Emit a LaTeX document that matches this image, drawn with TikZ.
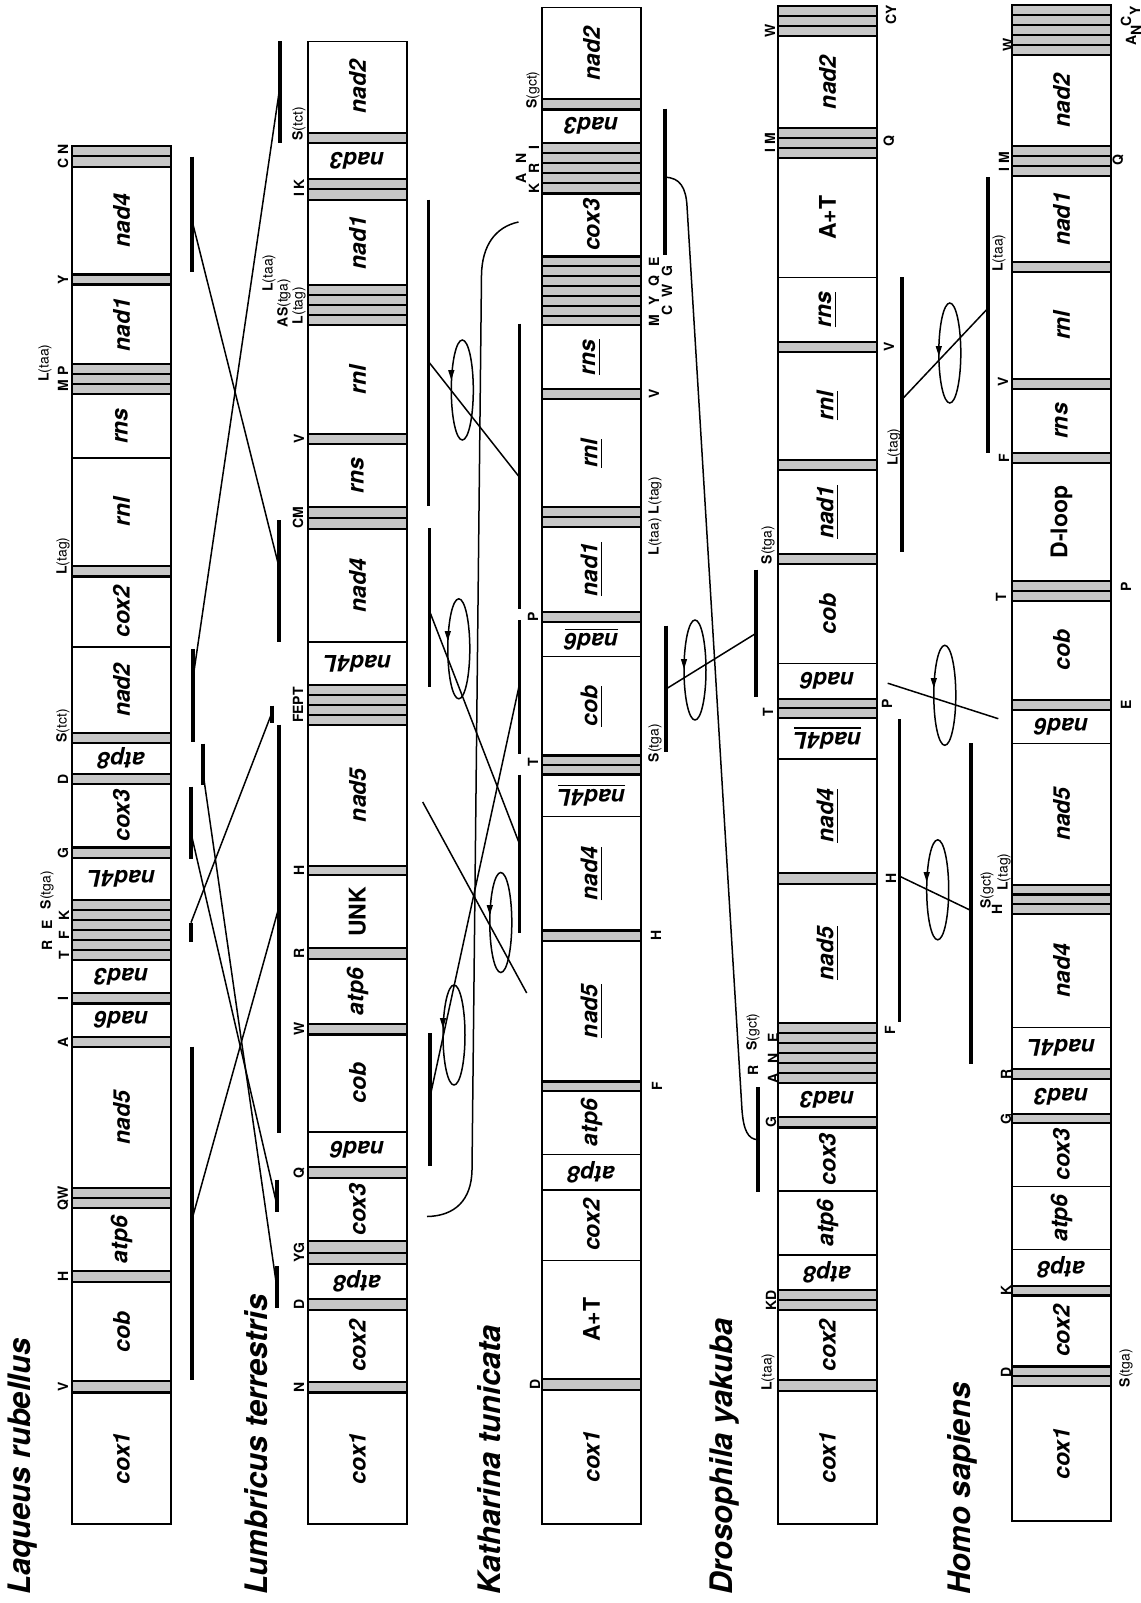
\documentclass[tikz,border=0pt]{standalone}
\usepackage{fontspec}
\setmainfont{TeX Gyre Heros}
\newcounter{nn}
\tikzset{
  boxline/.style={draw=black, line width=0.6pt},
  bandst/.style={draw=black, fill=black!22, line width=1.05pt},
  genelab/.style={inner sep=0pt, font=\fontsize{11.5}{12}\selectfont\bfseries\itshape},
  tlab/.style={inner sep=0pt, rotate=90, font=\fontsize{7}{8}\selectfont\bfseries},
  spname/.style={inner sep=0pt, rotate=90, anchor=west, font=\fontsize{15.5}{18}\selectfont\bfseries\itshape},
  bar/.style={line width=1.7pt},
  link/.style={line width=0.75pt},
  loopst/.style={line width=0.75pt},
}
\newcommand{\gn}[5]{\stepcounter{nn}%
  \draw[boxline] (#1,#2) rectangle (#1+99,#3);%
  \node[genelab, rotate=#4] (g\arabic{nn}) at (#1+49.5,{(#2+#3)/2}) {#5};}
\newcommand{\bd}[3]{\filldraw[bandst] (#1,#2) rectangle (#1+99,#3);}
\newcommand{\bds}[4]{\foreach \k in {1,...,#4}{\filldraw[bandst] (#1,{#2+(\k-1)*(#3-#2)/#4}) rectangle (#1+99,{#2+\k*(#3-#2)/#4});}}
\newcommand{\tl}[3]{\stepcounter{nn}\node[tlab] (t\arabic{nn}) at (#1,#2) {#3};}
\newcommand{\ac}[2]{#1{\mdseries(#2)}}
\newcommand{\ul}[1]{\setbox0=\hbox{#1}\leavevmode\rlap{\rule[-2.6pt]{\wd0}{0.9pt}}\box0}
\newcommand{\lp}[3]{\draw[loopst] (#1,#2) ellipse (11 and 50);
  \fill (#1-14.2,#3-9) -- (#1-7.8,#3-9) -- (#1-11,#3+1) -- cycle;}
\begin{document}
\begin{tikzpicture}[x=0.5pt,y=-0.5pt]
\useasboundingbox (0,0) rectangle (1141,1603);
% ---------------- Laqueus
\bds{72}{145.7}{167}{2}
\gn{72}{167}{274.5}{90}{nad4}
\bd{72}{274.5}{284.5}
\gn{72}{284.5}{364.3}{90}{nad1}
\bds{72}{364.3}{394.3}{3}
\gn{72}{394.3}{458}{90}{rns}
\gn{72}{458}{566.2}{90}{rnl}
\bd{72}{566.2}{576.5}
\gn{72}{576.5}{647}{90}{cox2}
\gn{72}{647}{733.2}{90}{nad2}
\bd{72}{733.2}{742.8}
\gn{72}{742.8}{773.8}{180}{atp8}
\bd{72}{773.8}{784.1}
\gn{72}{784.1}{847.5}{90}{cox3}
\bd{72}{847.5}{857.8}
\gn{72}{857.8}{900.2}{180}{nad4L}
\bds{72}{900.2}{959.7}{6}
\gn{72}{959.7}{993.2}{180}{nad3}
\bd{72}{993.2}{1003.5}
\gn{72}{1003.5}{1036.9}{180}{nad6}
\bd{72}{1036.9}{1047.2}
\gn{72}{1047.2}{1188.2}{90}{nad5}
\bds{72}{1188.2}{1208.2}{2}
\gn{72}{1208.2}{1271.3}{90}{atp6}
\bd{72}{1271.3}{1281.7}
\gn{72}{1281.7}{1381.4}{90}{cob}
\bd{72}{1381.4}{1392.5}
\gn{72}{1392.5}{1524}{90}{cox1}
% ---------------- Lumbricus
\gn{308}{41.3}{132.6}{90}{nad2}
\bd{308}{132.6}{142.9}
\gn{308}{142.9}{179.1}{180}{nad3}
\bds{308}{179.1}{199.7}{2}
\gn{308}{199.7}{285.1}{90}{nad1}
\bds{308}{285.1}{325.4}{4}
\gn{308}{325.4}{433.9}{90}{rnl}
\bd{308}{433.9}{444.2}
\gn{308}{444.2}{507}{90}{rns}
\bds{308}{507}{529}{2}
\gn{308}{529}{641.9}{90}{nad4}
\gn{308}{641.9}{685}{180}{nad4L}
\bds{308}{685}{724.6}{4}
\gn{308}{724.6}{865.7}{90}{nad5}
\bd{308}{865.7}{875}
\gn{308}{875}{948.4}{90}{\upshape UNK}
\bd{308}{948.4}{958.7}
\gn{308}{958.7}{1024.1}{90}{atp6}
\bd{308}{1024.1}{1034.5}
\gn{308}{1034.5}{1132}{90}{cob}
\gn{308}{1132}{1167.4}{180}{nad6}
\bd{308}{1167.4}{1177.8}
\gn{308}{1177.8}{1240.8}{90}{cox3}
\bds{308}{1240.8}{1264.3}{2}
\gn{308}{1264.3}{1299}{180}{atp8}
\bd{308}{1299}{1310}
\gn{308}{1310}{1382}{90}{cox2}
\bd{308}{1382}{1392.5}
\gn{308}{1392.5}{1524}{90}{cox1}
% ---------------- Katharina
\gn{542}{7.6}{99.2}{90}{nad2}
\bd{542}{99.2}{109.5}
\gn{542}{109.5}{142.9}{180}{nad3}
\bds{542}{142.9}{193.5}{5}
\gn{542}{193.5}{256.5}{90}{cox3}
\bds{542}{256.5}{325.4}{7}
\gn{542}{325.4}{389.1}{90}{\ul{rns}}
\bd{542}{389.1}{399.4}
\gn{542}{399.4}{507}{90}{\ul{rnl}}
\bds{542}{507}{527}{2}
\gn{542}{527}{611.6}{90}{\ul{nad1}}
\bd{542}{611.6}{622.3}
\gn{542}{622.3}{656.7}{180}{\ul{nad6}}
\gn{542}{656.7}{755.5}{90}{\ul{cob}}
\bds{542}{755.5}{774.5}{2}
\gn{542}{774.5}{816.5}{180}{\ul{nad4L}}
\gn{542}{816.5}{930.5}{90}{\ul{nad4}}
\bd{542}{930.5}{940.8}
\gn{542}{940.8}{1081.5}{90}{\ul{nad5}}
\bd{542}{1081.5}{1091.2}
\gn{542}{1091.2}{1154.2}{90}{atp6}
\gn{542}{1154.2}{1189.9}{180}{atp8}
\gn{542}{1189.9}{1260.1}{90}{cox2}
\gn{542}{1260.1}{1379.3}{90}{\upshape A+T}
\bd{542}{1379.3}{1389.7}
\gn{542}{1389.7}{1524}{90}{cox1}
% ---------------- Drosophila
\bds{778}{6.2}{36.2}{3}
\gn{778}{36.2}{128.1}{90}{nad2}
\bds{778}{128.1}{158.4}{3}
\gn{778}{158.4}{277.2}{90}{\upshape A+T}
\gn{778}{277.2}{341.9}{90}{\ul{rns}}
\bd{778}{341.9}{351.9}
\gn{778}{351.9}{459.7}{90}{\ul{rnl}}
\bd{778}{459.7}{470}
\gn{778}{470}{554.1}{90}{\ul{nad1}}
\bd{778}{554.1}{564.4}
\gn{778}{564.4}{663.6}{90}{cob}
\gn{778}{663.6}{698.7}{180}{nad6}
\bds{778}{698.7}{717.7}{2}
\gn{778}{717.7}{759}{180}{\ul{nad4L}}
\gn{778}{759}{872.6}{90}{\ul{nad4}}
\bd{778}{872.6}{883.7}
\gn{778}{883.7}{1022.7}{90}{\ul{nad5}}
\bds{778}{1022.7}{1083.3}{6}
\gn{778}{1083.3}{1117.1}{180}{nad3}
\bd{778}{1117.1}{1127.5}
\gn{778}{1127.5}{1190.9}{90}{cox3}
\gn{778}{1190.9}{1255}{90}{atp6}
\gn{778}{1255}{1290.3}{180}{atp8}
\bds{778}{1290.3}{1310}{2}
\gn{778}{1310}{1380.3}{90}{cox2}
\bd{778}{1380.3}{1390.7}
\gn{778}{1390.7}{1524}{90}{cox1}
% ---------------- Homo
\bds{1012}{5.2}{55.1}{5}
\gn{1012}{55.1}{146.4}{90}{nad2}
\bds{1012}{146.4}{176.3}{3}
\gn{1012}{176.3}{261.7}{90}{nad1}
\bd{1012}{261.7}{272}
\gn{1012}{272}{378.8}{90}{rnl}
\bd{1012}{378.8}{389.1}
\gn{1012}{389.1}{452.8}{90}{rns}
\bd{1012}{452.8}{463.2}
\gn{1012}{463.2}{581}{90}{\upshape D-loop}
\bds{1012}{581}{600.6}{2}
\gn{1012}{600.6}{699.8}{90}{cob}
\bd{1012}{699.8}{709.8}
\gn{1012}{709.8}{743.5}{180}{nad6}
\gn{1012}{743.5}{884.7}{90}{nad5}
\bds{1012}{884.7}{914}{3}
\gn{1012}{914}{1027.6}{90}{nad4}
\gn{1012}{1027.6}{1068.7}{180}{nad4L}
\bd{1012}{1068.7}{1079}
\gn{1012}{1079}{1113.7}{180}{nad3}
\bd{1012}{1113.7}{1123.4}
\gn{1012}{1123.4}{1186.4}{90}{cox3}
\gn{1012}{1186.4}{1249.8}{90}{atp6}
\gn{1012}{1249.8}{1285.8}{180}{atp8}
\bd{1012}{1285.8}{1295.5}
\gn{1012}{1295.5}{1366.5}{90}{cox2}
\bds{1012}{1366.5}{1385.6}{2}
\gn{1012}{1385.6}{1521}{90}{cox1}
% ---------------- tRNA labels: Laqueus
\tl{63}{156}{C N}
\tl{63}{279.5}{Y}
\tl{63}{379}{M P}
\tl{45}{363}{\ac{L}{taa}}
\tl{63}{556}{\ac{L}{tag}}
\tl{63}{726}{\ac{S}{tct}}
\tl{63}{779}{D}
\tl{63}{852.6}{G}
\tl{64}{955}{T}
\tl{64}{935}{F}
\tl{64}{915}{K}
\tl{47}{945}{R}
\tl{47}{925}{E}
\tl{47}{890}{\ac{S}{tga}}
\tl{63}{998.3}{I}
\tl{63}{1042}{A}
\tl{63}{1198}{QW}
\tl{63}{1276.5}{H}
\tl{63}{1387}{V}
% Lumbricus
\tl{299}{124}{\ac{S}{tct}}
\tl{299}{188}{I K}
\tl{299}{305.5}{\ac{L}{tag}}
\tl{284}{303}{A\ac{S}{tga}}
\tl{269}{273}{\ac{L}{taa}}
\tl{299}{439}{V}
\tl{298}{518}{CM}
\tl{298}{705}{FEPT}
\tl{299}{870.4}{H}
\tl{299}{953.5}{R}
\tl{299}{1029.3}{W}
\tl{299}{1172.6}{Q}
\tl{299}{1252.5}{YG}
\tl{299}{1304.5}{D}
\tl{299}{1387}{N}
% Katharina
\tl{533}{90}{\ac{S}{gct}}
\tl{521}{178}{A}
\tl{521}{158}{N}
\tl{534}{188.5}{K}
\tl{534}{168}{R}
\tl{534}{148}{I}
\tl{654}{320.5}{M}
\tl{654}{300.8}{Y}
\tl{654}{281}{Q}
\tl{654}{261.4}{E}
\tl{667}{310.6}{C}
\tl{667}{291}{W}
\tl{667}{271.2}{G}
\tl{654}{394}{V}
\tl{655}{516}{\ac{L}{taa} \ac{L}{tag}}
\tl{533}{617}{P}
\tl{533}{762}{T}
\tl{655}{743}{\ac{S}{tga}}
\tl{656}{935.6}{H}
\tl{657}{1086}{F}
\tl{535}{1384.5}{D}
% Drosophila
\tl{770}{31}{W}
\tl{891}{15}{CY}
\tl{770}{143}{I M}
\tl{889}{141}{Q}
\tl{889}{347}{V}
\tl{894}{447}{\ac{L}{tag}}
\tl{768}{545}{\ac{S}{tga}}
\tl{768}{712.5}{T}
\tl{887}{704}{P}
\tl{891}{878}{H}
\tl{890}{1030}{F}
\tl{753}{1070}{R}
\tl{753}{1032}{\ac{S}{gct}}
\tl{773}{1078}{A}
\tl{773}{1058}{N}
\tl{773}{1038}{E}
\tl{771}{1122}{G}
\tl{771}{1300}{KD}
\tl{768}{1372}{\ac{L}{taa}}
% Homo
\tl{1008}{45}{W}
\tl{1131}{40}{A}
\tl{1126}{21}{C}
\tl{1136}{30}{N}
\tl{1135}{11}{Y}
\tl{1004}{162}{I M}
\tl{1118}{160}{Q}
\tl{999}{253}{\ac{L}{taa}}
\tl{1003}{382}{V}
\tl{1004}{458}{F}
\tl{1001}{597}{T}
\tl{1126}{587}{P}
\tl{1126}{705}{E}
\tl{987}{890}{\ac{S}{gct}}
\tl{997}{909}{H}
\tl{1004}{872}{\ac{L}{tag}}
\tl{1006}{1074}{R}
\tl{1006}{1119}{G}
\tl{1006}{1290}{K}
\tl{1006}{1372}{D}
\tl{1126}{1368}{\ac{S}{tga}}
% ---------------- species names
\node[spname] (sp1) at (22.5,1595) {Laqueus rubellus};
\node[spname] (sp2) at (256,1595) {Lumbricus terrestris};
\node[spname] (sp3) at (489,1595) {Katharina tunicata};
\node[spname] (sp4) at (724,1595) {Drosophila yakuba};
\node[spname] (sp5) at (962.5,1595) {Homo sapiens};
% ---------------- Laqueus - Lumbricus
\draw[bar] (192,156.7) -- (192,272);
\draw[bar] (193,648.8) -- (193,741.8);
\draw[bar] (203,743.5) -- (203,784.8);
\draw[bar] (191,786.5) -- (191,858.9);
\draw[bar] (191,922.6) -- (191,941.5);
\draw[bar] (192,1046.5) -- (192,1380.3);
\draw[bar] (280,41.3) -- (280,142.9);
\draw[bar] (279,520) -- (279,641.9);
\draw[bar] (272,705.6) -- (272,722.8);
\draw[bar] (279,724.6) -- (279,1132.7);
\draw[bar] (277,1179.5) -- (277,1212.4);
\draw[bar] (277,1266) -- (277,1307.6);
\coordinate (a1) at (192,220.4);
\coordinate (a2) at (193,678);
\coordinate (a3) at (203,772.8);
\coordinate (a4) at (191,833);
\coordinate (a5) at (191,922.6);
\coordinate (a6) at (192,1219.3);
\coordinate (b1) at (280,86);
\coordinate (b2) at (279,567);
\coordinate (b3) at (272,712.5);
\coordinate (b4) at (279,907);
\coordinate (b5) at (277,1205.4);
\coordinate (b6) at (277,1288.5);
\draw[link] (a1) -- (b2);
\draw[link] (b1) -- (a2);
\draw[link] (a3) -- (b6);
\draw[link] (a4) -- (b5);
\draw[link] (a5) -- (b3);
\draw[link] (b4) -- (a6);
% ---------------- Lumbricus - Katharina
\draw[bar] (428.5,199.7) -- (428.5,506.2);
\draw[bar] (429.5,528) -- (429.5,686.7);
\draw[bar] (430,1033.3) -- (430,1166);
\draw[bar] (519.3,323.7) -- (519.3,609.2);
\draw[bar] (519.3,620.2) -- (519.3,753.8);
\draw[bar] (519.3,774.5) -- (519.3,932.9);
\coordinate (c1) at (428.5,361.6);
\coordinate (c2) at (429.5,611);
\coordinate (c4) at (430,1097);
\coordinate (d1) at (519.3,477);
\coordinate (d2) at (519.3,685);
\coordinate (d3) at (519.3,843.4);
\coordinate (f1) at (422.7,802);
\coordinate (f2) at (526.7,993);
\coordinate (u1) at (518.5,222);
\coordinate (u2) at (427,1216.5);
\draw[link] (c1) -- (d1);
\draw[link] (c2) -- (d3);
\draw[link] (d2) -- (c4);
\draw[link] (f1) -- (f2);
\draw[link] (u1) .. controls (495,227) and (482,246) .. (481.5,275) -- (472,1170) .. controls (471.5,1200) and (455,1216) .. (u2);
\lp{462.3}{390}{379}
\lp{458.8}{648.8}{640}
\lp{500.8}{922.5}{914}
\lp{454}{1035}{1027}
% ---------------- Katharina - Drosophila
\draw[bar] (665,108.5) -- (665,254.8);
\draw[bar] (666,625.7) -- (666,752.1);
\draw[bar] (756,569.6) -- (756,697);
\draw[bar] (758,1087) -- (758,1191.6);
\coordinate (e1) at (665,177.3);
\coordinate (e2) at (666,689);
\coordinate (h1) at (758,1139.6);
\coordinate (h2) at (756,633.3);
\draw[link] (e1) .. controls (680,177.3) and (686,188) .. (687,206) -- (742,1110) .. controls (743.5,1130) and (748,1139.6) .. (h1);
\draw[link] (e2) -- (h2);
\lp{695}{670}{668}
% ---------------- Drosophila - Homo
\draw[bar] (902,277.2) -- (902,552.4);
\draw[bar] (988,177.3) -- (988,452.8);
\draw[bar] (899.3,719.4) -- (899.3,1021.7);
\draw[bar] (971,743) -- (971,1064);
\coordinate (i1) at (902,399.4);
\coordinate (i2) at (887.7,683.2);
\coordinate (i3) at (899.3,876.1);
\coordinate (j1) at (988,308.2);
\coordinate (j2) at (998.3,718.7);
\coordinate (j3) at (971,910.5);
\draw[link] (i1) -- (j1);
\draw[link] (i2) -- (j2);
\draw[link] (i3) -- (j3);
\lp{949.8}{353}{355}
\lp{944.8}{695.3}{687}
\lp{937.7}{889.8}{881}
\end{tikzpicture}
\end{document}
